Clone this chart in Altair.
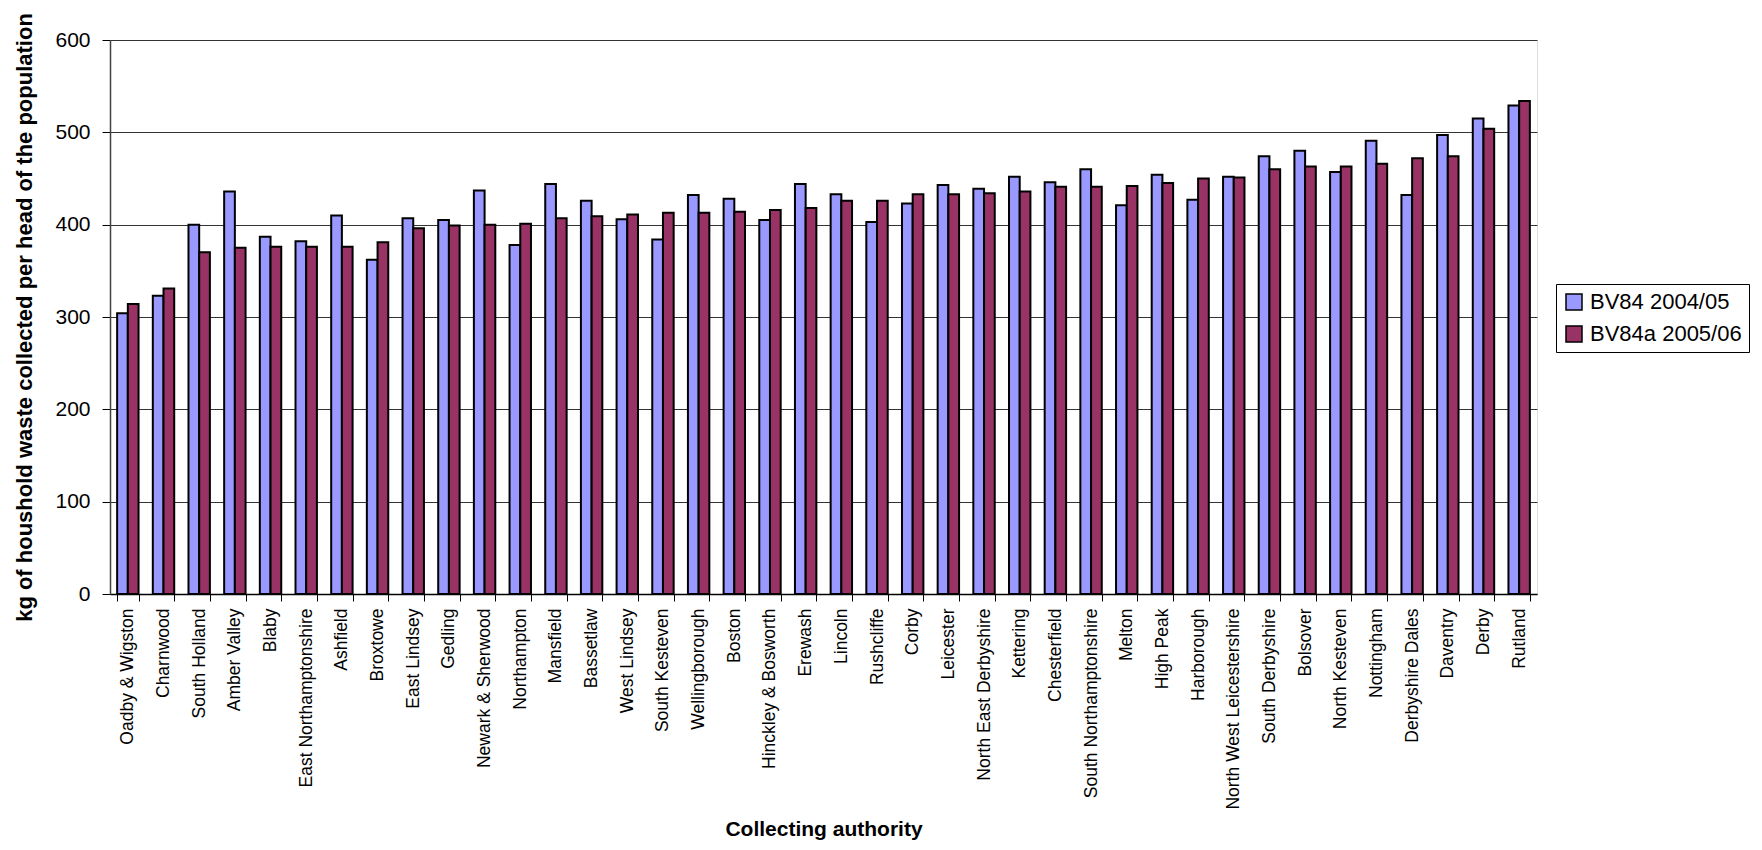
import altair as alt
import pandas as pd

authorities = [
    "Oadby & Wigston", "Charnwood", "South Holland", "Amber Valley", "Blaby",
    "East Northamptonshire", "Ashfield", "Broxtowe", "East Lindsey", "Gedling",
    "Newark & Sherwood", "Northampton", "Mansfield", "Bassetlaw", "West Lindsey",
    "South Kesteven", "Wellingborough", "Boston", "Hinckley & Bosworth", "Erewash",
    "Lincoln", "Rushcliffe", "Corby", "Leicester", "North East Derbyshire",
    "Kettering", "Chesterfield", "South Northamptonshire", "Melton", "High Peak",
    "Harborough", "North West Leicestershire", "South Derbyshire", "Bolsover",
    "North Kesteven", "Nottingham", "Derbyshire Dales", "Daventry", "Derby", "Rutland",
]

bv84_2004 = [
    304, 323, 400, 436, 387, 382, 410, 362, 407, 405,
    437, 378, 444, 426, 406, 384, 432, 428, 405, 444,
    433, 403, 423, 443, 439, 452, 446, 460, 421, 454,
    427, 452, 474, 480, 457, 491, 432, 497, 515, 529,
]

bv84a_2005 = [
    314, 331, 370, 375, 376, 376, 376, 381, 396, 399,
    400, 401, 407, 409, 411, 413, 413, 414, 416, 418,
    426, 426, 433, 433, 434, 436, 441, 441, 442, 445,
    450, 451, 460, 463, 463, 466, 472, 474, 504, 534,
]

series_names = ["BV84 2004/05", "BV84a 2005/06"]
series_colors = ["#9999FF", "#993366"]

rows = []
for name, vals in zip(series_names, [bv84_2004, bv84a_2005]):
    for a, v in zip(authorities, vals):
        rows.append({"authority": a, "series": name, "value": v})
df = pd.DataFrame(rows)

FONT = "Liberation Sans"

chart = alt.Chart(df).mark_bar(stroke="black", strokeWidth=2).encode(
    x=alt.X(
        "authority:N",
        sort=authorities,
        scale=alt.Scale(paddingInner=0.4, paddingOuter=0.2),
        axis=alt.Axis(
            title="Collecting authority",
            titleFont=FONT,
            titleFontSize=21,
            titleFontWeight="bold",
            titleColor="black",
            titleX=713.5,
            titleY=241,
            titleAlign="center",
            titleBaseline="alphabetic",
            labelAngle=270,
            labelAlign="right",
            labelBaseline="middle",
            labelFont=FONT,
            labelFontSize=17.5,
            labelColor="black",
            labelPadding=7,
            labelLimit=400,
            tickSize=7,
            tickColor="black",
            tickBand="extent",
            domainColor="black",
            domainWidth=1.5,
            grid=False,
        ),
    ),
    xOffset=alt.XOffset("series:N", sort=series_names),
    y=alt.Y(
        "value:Q",
        scale=alt.Scale(domain=[0, 600], nice=False),
        axis=alt.Axis(
            title="kg of houshold waste collected per head of the population",
            titleFont=FONT,
            titleFontSize=22,
            titleFontWeight="bold",
            titleColor="black",
            titleAngle=270,
            titleX=-86,
            titleY=277,
            titleAlign="center",
            titleBaseline="middle",
            values=[0, 100, 200, 300, 400, 500, 600],
            labelFont=FONT,
            labelFontSize=21,
            labelColor="black",
            labelPadding=12,
            tickSize=8,
            tickColor="black",
            domainColor="#404040",
            domainWidth=1.5,
            grid=True,
            gridColor="#333333",
            gridWidth=1,
        ),
    ),
    color=alt.Color(
        "series:N",
        sort=series_names,
        scale=alt.Scale(domain=series_names, range=series_colors),
        legend=alt.Legend(
            title=None,
            orient="none",
            legendX=1446,
            legendY=244,
            labelFont=FONT,
            labelFontSize=22,
            labelColor="black",
            labelOffset=5,
            symbolType="square",
            symbolSize=256,
            symbolStrokeColor="black",
            symbolStrokeWidth=1.5,
            symbolOpacity=1,
            rowPadding=10,
            padding=7,
            strokeColor="black",
            fillColor="white",
            cornerRadius=0,
        ),
    ),
).properties(
    width=1427,
    height=554,
    autosize=alt.AutoSizeParams(type="none"),
    padding={"left": 102, "top": 32, "right": 217, "bottom": 246},
).configure_view(
    fill="#C0C0C0",
    stroke="#808080",
    strokeWidth=1.5,
).configure(background="white")

chart.save("out.html", embed_options={"renderer": "svg", "actions": False})
